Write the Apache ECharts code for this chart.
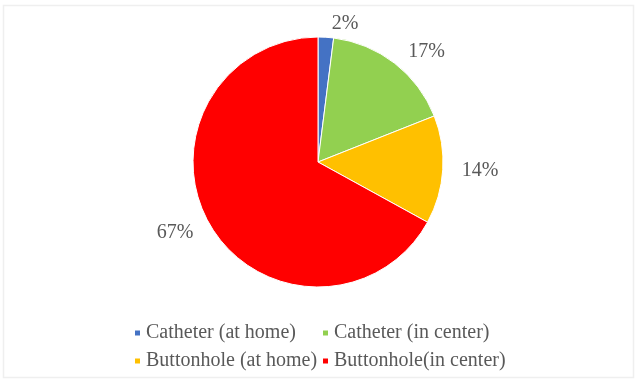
<!DOCTYPE html>
<html>
<head>
<meta charset="utf-8">
<script src="https://cdn.jsdelivr.net/npm/echarts@6/dist/echarts.min.js"></script>
<style>
html,body{margin:0;padding:0;background:#fff;}
#c{width:641px;height:381px;}
</style>
</head>
<body>
<div id="c"></div>
<script>
const categories = ['Catheter (at home)', 'Catheter (in center)', 'Buttonhole (at home)', 'Buttonhole(in center)'];
const values = [2, 17, 14, 67];
const colors = ['#4472C4', '#92D050', '#FFC000', '#FF0000'];

const chart = echarts.init(document.getElementById('c'));
const fontFamily = '"Liberation Serif", "Times New Roman", serif';
const legendText = { fontFamily: fontFamily, fontSize: 20, color: '#595959', lineHeight: 20 };

chart.setOption({
  animation: false,
  backgroundColor: '#ffffff',
  graphic: [{
    type: 'rect',
    shape: { x: 3.5, y: 5.5, width: 630, height: 372 },
    style: { fill: 'none', stroke: '#efefef', lineWidth: 1.5 },
    silent: true
  }],
  legend: [{
    orient: 'vertical',
    left: 128,
    top: 318,
    itemWidth: 7,
    itemHeight: 7,
    itemGap: 8,
    icon: 'rect',
    data: [categories[0], categories[2]],
    textStyle: legendText
  }, {
    orient: 'vertical',
    left: 316,
    top: 318,
    itemWidth: 7,
    itemHeight: 7,
    itemGap: 8,
    icon: 'rect',
    data: [categories[1], categories[3]],
    textStyle: legendText
  }],
  series: [{
    type: 'pie',
    center: [318, 162],
    radius: [0, 125],
    startAngle: 90,
    clockwise: true,
    avoidLabelOverlap: false,
    itemStyle: { borderColor: '#ffffff', borderWidth: 1 },
    label: {
      show: true,
      position: 'outside',
      formatter: p => p.value + '%',
      fontFamily: fontFamily,
      fontSize: 20,
      color: '#595959'
    },
    labelLine: { show: false, length: 14, length2: 0 },
    data: categories.map((c, i) => ({ name: c, value: values[i], itemStyle: { color: colors[i] } }))
  }]
});
</script>
</body>
</html>
